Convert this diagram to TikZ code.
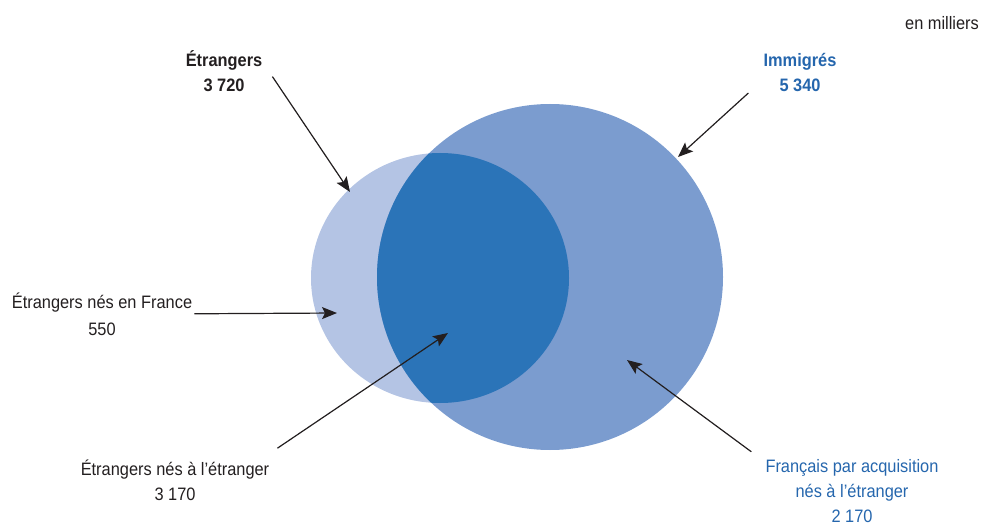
\documentclass[tikz,border=0pt]{standalone}
\usepackage{fontspec}
\setmainfont{Liberation Sans}[FakeStretch=0.91]
\usepackage{tikz}
\usetikzlibrary{arrows.meta}
\definecolor{etrfill}{HTML}{B4C4E4}
\definecolor{immfill}{HTML}{7B9CCF}
\definecolor{bothfill}{HTML}{2B74B8}
\definecolor{immtext}{HTML}{2566AD}
\definecolor{ink}{HTML}{231F20}

\begin{document}
\begin{tikzpicture}[x=1pt,y=-1pt,>={Stealth[length=15pt,width=12pt,inset=3pt]}
    ,legend/.style = {font=\fontsize{18}{25}\selectfont, text=ink, align=center, anchor=base, inner sep=2pt}
    ,heading/.style = {legend, font=\fontsize{18}{25}\selectfont\bfseries}
    ,pointer/.style = {->, draw=ink, fill=ink, line width=1.2pt}
  ]
  \useasboundingbox (0,0) rectangle (983,524);

  \fill[etrfill] (440,278) ellipse [x radius=129, y radius=125];
  \fill[immfill] (550,277) circle [radius=173];
  \begin{scope}
    \clip (550,277) circle [radius=173];
    \fill[bothfill] (440,278) ellipse [x radius=129, y radius=125];
  \end{scope}

  \coordinate (tEtr) at (350,192);
  \coordinate (tImm) at (678,157);
  \coordinate (tEfr) at (337,313);
  \coordinate (tEle) at (448,333);
  \coordinate (tFra) at (627,360);

  \node[legend] (unit) at (942,30) {en milliers};
  \node[heading] (etr) at (224,92) {Étrangers\\3 720};
  \node[heading, text=immtext] (imm) at (800,92) {Immigrés\\5 340};
  \node[legend] (efr) at (102,335) {Étrangers nés en France\\[2pt]550};
  \node[legend] (ele) at (175,500) {Étrangers nés à l’étranger\\3 170};
  \node[legend, text=immtext] (fra) at (852,522) {Français par acquisition\\nés à l’étranger\\2 170};

  \draw[pointer] ([shift={(8,5)}]etr.east) -- (tEtr);
  \draw[pointer] ([shift={(-13,20)}]imm.west) -- (tImm);
  \draw[pointer] (efr.east) -- (tEfr);
  \draw[pointer] ([shift={(6,-9)}]ele.north east) -- (tEle);
  \draw[pointer] ([shift={(-12,-5)}]fra.north west) -- (tFra);
\end{tikzpicture}
\end{document}
